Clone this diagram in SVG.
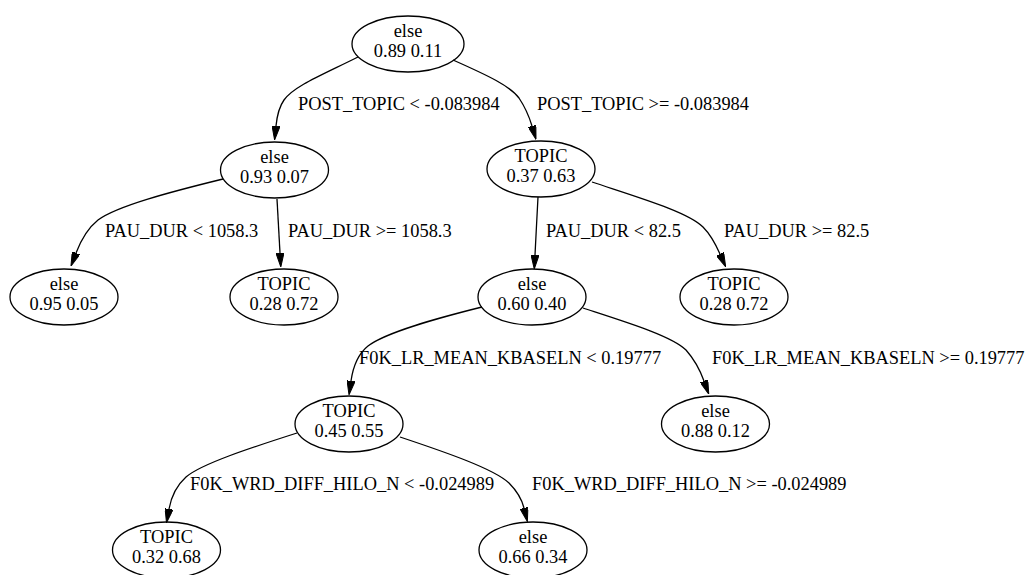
<svg xmlns="http://www.w3.org/2000/svg" width="1026" height="575" viewBox="0 0 1026 575">
<style>
.n ellipse{fill:none;stroke:#000;stroke-width:1.3}
text{font-family:"Liberation Serif","Times New Roman",serif;font-size:18.4px;fill:#000}
.n text{text-anchor:middle}
.e path{fill:none;stroke:#000;stroke-width:1.3;marker-end:url(#ah)}
</style>
<defs>
<marker id="ah" viewBox="0 0 14 8" refX="0" refY="4" markerWidth="14" markerHeight="8" markerUnits="userSpaceOnUse" orient="auto">
<path d="M0,0 L14,4 L0,8 z" fill="#000" stroke="#000" stroke-width="1"/>
</marker>
</defs>
<rect width="1026" height="575" fill="#fff"/>
<g id="edges" class="e">
<path d="M358,57 C322,75 294,86 284,100 C279,107 277,116 276,126"/>
<path d="M453,60 C489,76 510,86 519,98 C525,107 529,116 532,126"/>
<path d="M223,179 C170,192 117,206 98,220 C88,228 81,240 76,253"/>
<path d="M277,199 C278,218 279,236 280,253"/>
<path d="M538,197 C537,215 536,236 535,255"/>
<path d="M592,182 C640,198 688,212 703,227 C711,235 716,245 720,254"/>
<path d="M482,307 C438,318 386,332 368,346 C358,354 353,367 351,381"/>
<path d="M583,308 C626,322 672,336 686,350 C694,359 700,370 704,381"/>
<path d="M297,433 C250,448 201,464 186,477 C176,486 171,498 169,509"/>
<path d="M400,437 C448,453 494,469 509,483 C517,491 522,500 524,508"/>
</g>
<g id="edge-labels">
<text x="298" y="110">POST_TOPIC &lt; -0.083984</text>
<text x="537" y="110">POST_TOPIC &gt;= -0.083984</text>
<text x="105" y="237">PAU_DUR &lt; 1058.3</text>
<text x="288" y="237">PAU_DUR &gt;= 1058.3</text>
<text x="546" y="237">PAU_DUR &lt; 82.5</text>
<text x="724" y="237">PAU_DUR &gt;= 82.5</text>
<text x="359" y="364">F0K_LR_MEAN_KBASELN &lt; 0.19777</text>
<text x="712" y="364">F0K_LR_MEAN_KBASELN &gt;= 0.19777</text>
<text x="190" y="490">F0K_WRD_DIFF_HILO_N &lt; -0.024989</text>
<text x="532" y="490">F0K_WRD_DIFF_HILO_N &gt;= -0.024989</text>
</g>
<g id="root" class="n"><ellipse cx="408" cy="44" rx="56" ry="28"/><text x="408" y="37">else</text><text x="408" y="57">0.89 0.11</text></g>
<g id="n1" class="n"><ellipse cx="274.5" cy="170" rx="54" ry="28"/><text x="274.5" y="163">else</text><text x="274.5" y="183">0.93 0.07</text></g>
<g id="n2" class="n"><ellipse cx="541" cy="169" rx="54" ry="28"/><text x="541" y="162">TOPIC</text><text x="541" y="182">0.37 0.63</text></g>
<g id="n3" class="n"><ellipse cx="64" cy="297" rx="54" ry="28"/><text x="64" y="290">else</text><text x="64" y="310">0.95 0.05</text></g>
<g id="n4" class="n"><ellipse cx="284" cy="297" rx="54" ry="28"/><text x="284" y="290">TOPIC</text><text x="284" y="310">0.28 0.72</text></g>
<g id="n5" class="n"><ellipse cx="532" cy="297" rx="54" ry="28"/><text x="532" y="290">else</text><text x="532" y="310">0.60 0.40</text></g>
<g id="n6" class="n"><ellipse cx="734" cy="297" rx="54" ry="28"/><text x="734" y="290">TOPIC</text><text x="734" y="310">0.28 0.72</text></g>
<g id="n7" class="n"><ellipse cx="349" cy="424" rx="54" ry="28"/><text x="349" y="417">TOPIC</text><text x="349" y="437">0.45 0.55</text></g>
<g id="n8" class="n"><ellipse cx="715.5" cy="424" rx="54" ry="28"/><text x="715.5" y="417">else</text><text x="715.5" y="437">0.88 0.12</text></g>
<g id="n9" class="n"><ellipse cx="166.5" cy="550" rx="54" ry="28"/><text x="166.5" y="543">TOPIC</text><text x="166.5" y="563">0.32 0.68</text></g>
<g id="n10" class="n"><ellipse cx="533" cy="550" rx="54" ry="28"/><text x="533" y="543">else</text><text x="533" y="563">0.66 0.34</text></g>
</svg>
